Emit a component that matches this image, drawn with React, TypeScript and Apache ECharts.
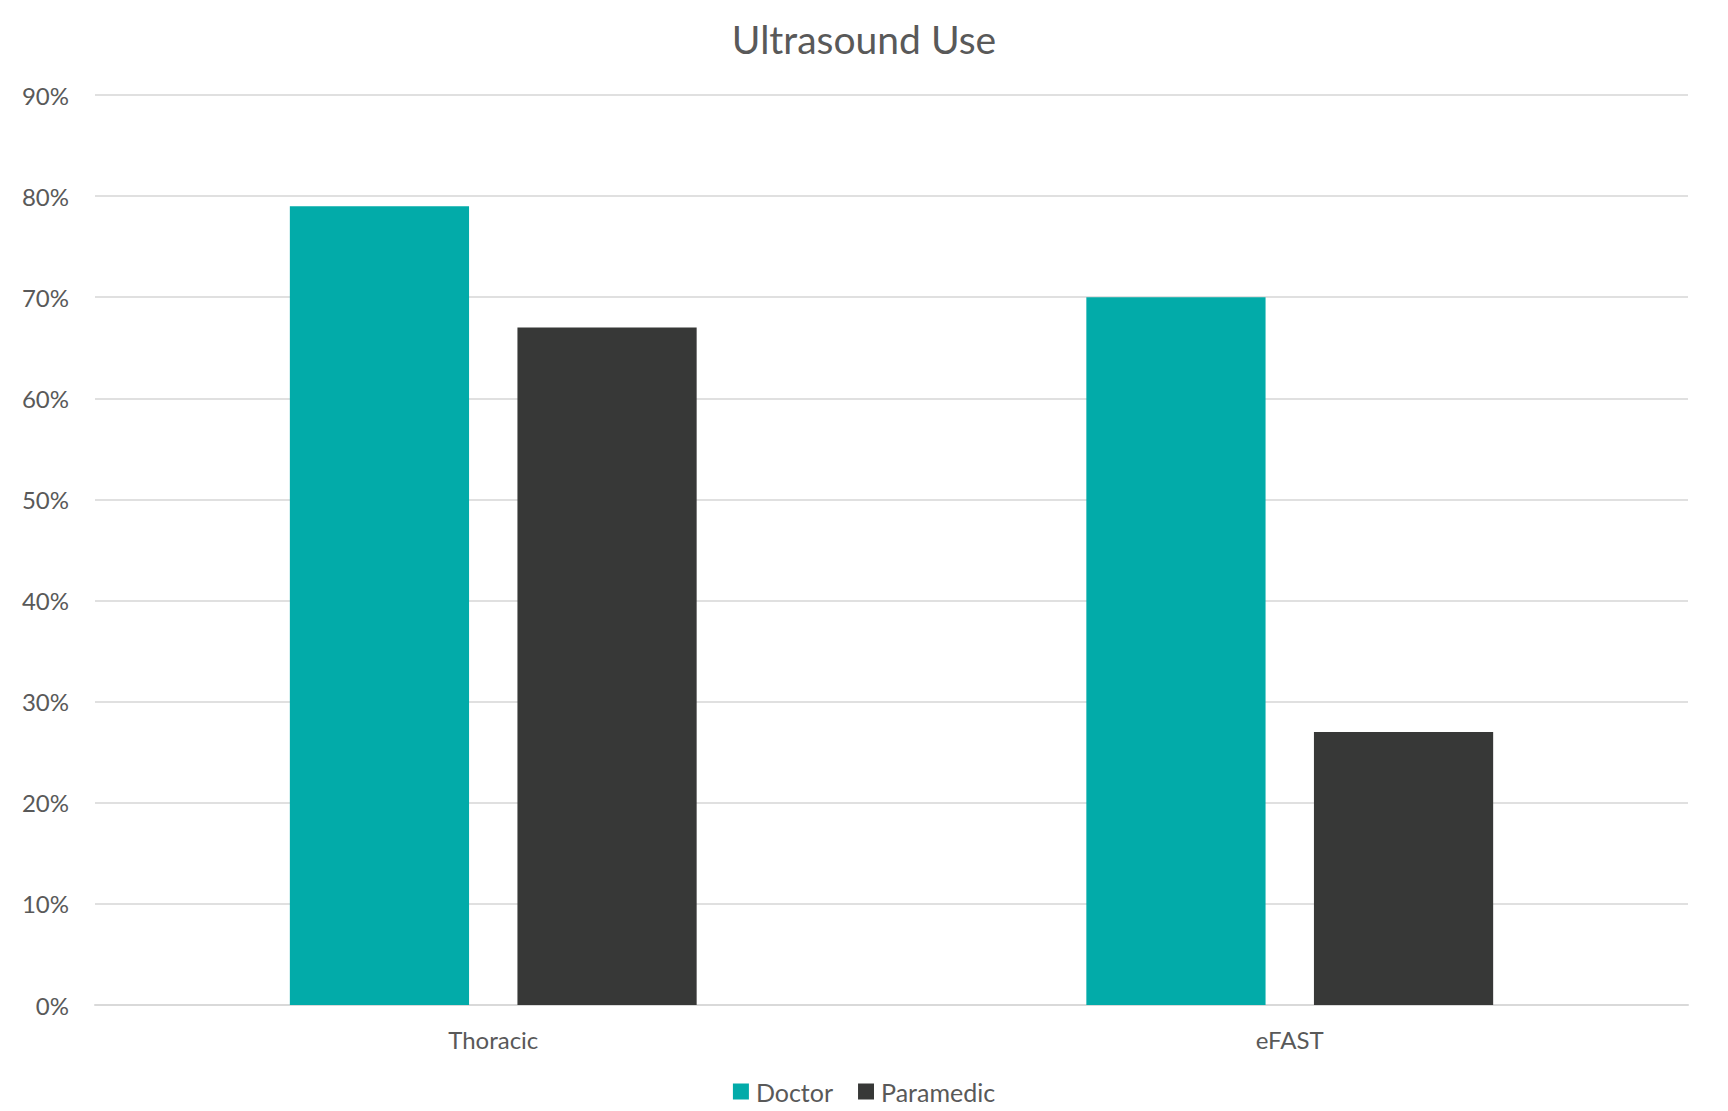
import React, { useEffect, useRef } from "react";
import * as echarts from "echarts";

const categories = ["Thoracic", "eFAST"];
const doctorValues = [79, 70];
const paramedicValues = [67, 27];
const seriesNames = ["Doctor", "Paramedic"];
const yMax = 90;
const yInterval = 10;

export default function App() {
  const ref = useRef<HTMLDivElement>(null);
  useEffect(() => {
    if (!ref.current) return;
    const chart = echarts.init(ref.current, null, { renderer: "svg" });
    const font = "Lato, 'Open Sans', sans-serif";
    const textColor = "#595959";
    chart.setOption({
      animation: false,
      backgroundColor: "#ffffff",
      title: {
        text: "Ultrasound Use",
        left: "center",
        top: 14,
        textStyle: { fontFamily: font, fontSize: 39, fontWeight: "normal", color: textColor },
      },
      legend: {
        data: seriesNames,
        bottom: 2,
        left: "center",
        itemWidth: 16,
        itemHeight: 16,
        itemGap: 25,
        icon: "rect",
        textStyle: { fontFamily: font, fontSize: 25, color: textColor, padding: [0, 0, 0, 2] },
      },
      grid: { left: 95, right: 40, top: 95, bottom: 106, containLabel: false },
      xAxis: {
        type: "category",
        data: categories,
        axisTick: { show: false },
        axisLine: { lineStyle: { color: "#D9D9D9", width: 2 } },
        axisLabel: { fontFamily: font, fontSize: 24, color: textColor, margin: 22 },
      },
      yAxis: {
        type: "value",
        min: 0,
        max: yMax,
        interval: yInterval,
        axisLine: { show: false },
        axisTick: { show: false },
        axisLabel: { fontFamily: font, fontSize: 24, color: textColor, margin: 26, formatter: "{value}%" },
        splitLine: { lineStyle: { color: "#E0E0E0", width: 2 } },
      },
      series: [
        {
          name: seriesNames[0],
          type: "bar",
          data: doctorValues,
          barWidth: "22.5%",
          barGap: "27%",
          itemStyle: { color: "#02ABA9" },
        },
        {
          name: seriesNames[1],
          type: "bar",
          data: paramedicValues,
          barWidth: "22.5%",
          barGap: "27%",
          itemStyle: { color: "#373837" },
        },
      ],
    });
    return () => chart.dispose();
  }, []);
  return (
    <div
      ref={ref}
      style={{ position: "absolute", left: 0, top: 0, width: 1728, height: 1111 }}
    />
  );
}
